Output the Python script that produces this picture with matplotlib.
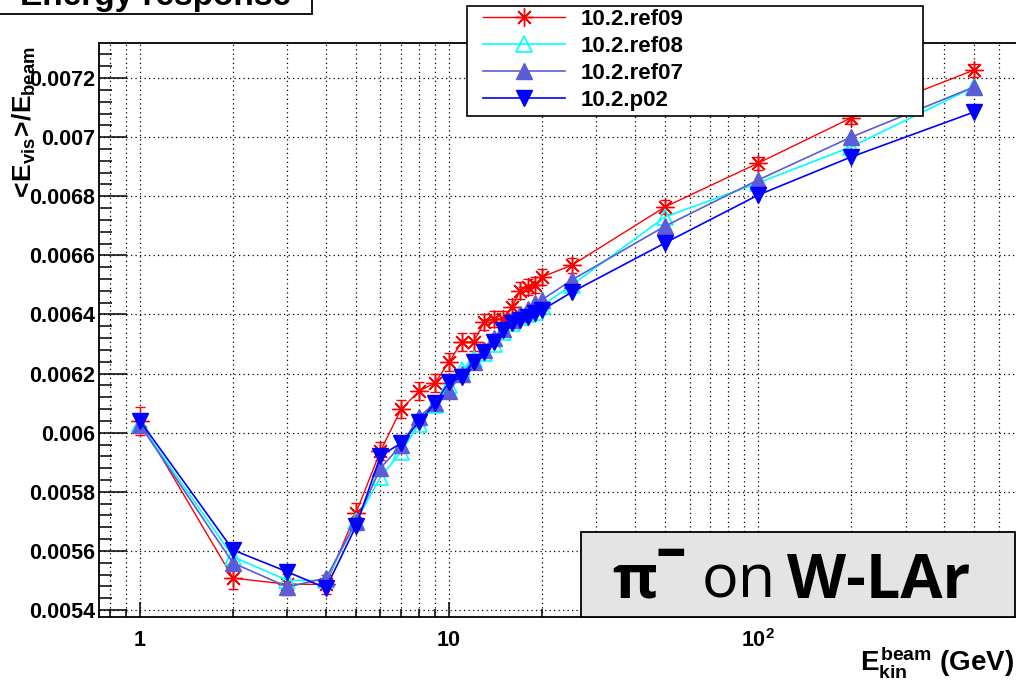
import matplotlib
matplotlib.use('Agg')
import matplotlib.pyplot as plt
from matplotlib.ticker import FixedLocator, FixedFormatter, LogLocator, NullFormatter, MultipleLocator
from matplotlib.patches import Rectangle

plt.rcParams['font.family'] = ['Liberation Sans', 'DejaVu Sans']
plt.rcParams['mathtext.fontset'] = 'custom'
plt.rcParams['mathtext.rm'] = 'Liberation Sans:bold'
plt.rcParams['mathtext.it'] = 'Liberation Sans:bold'
plt.rcParams['mathtext.bf'] = 'Liberation Sans:bold'

# ---------------- data ----------------
energy = [1, 2, 3, 4, 5, 6, 7, 8, 9, 10, 11, 12, 13, 14, 15, 16, 17, 18, 19, 20,
          25, 50, 100, 200, 500]

ref09 = [0.00604, 0.005508, 0.005487, 0.005487, 0.005728, 0.005938, 0.00608, 0.006141,
         0.006168, 0.006239, 0.006307, 0.006307, 0.006374, 0.006385, 0.006385, 0.006425,
         0.006481, 0.006493, 0.006500, 0.006527, 0.006567, 0.006764, 0.006912, 0.007065,
         0.007227]
ref09_err = [0.000047, 0.000037, 0.000035, 0.000033, 0.000033, 0.00003, 0.00003, 0.00003,
             0.00003, 0.00003, 0.00003, 0.00003, 0.000028, 0.000028, 0.000028, 0.000028,
             0.000028, 0.000028, 0.000028, 0.000028, 0.000025, 0.000025, 0.000022, 0.00002,
             0.000022]

ref08 = [0.00603, 0.00558, 0.0055, 0.0055, 0.0057, 0.00585, 0.005935, 0.00603,
         0.006094, 0.006161, 0.006212, 0.00625, 0.00627, 0.0063, 0.00634, 0.00637,
         0.00639, 0.0064, 0.00641, 0.00643, 0.0065, 0.00673, 0.006845, 0.006967, 0.00717]

ref07 = [0.006026, 0.005559, 0.005478, 0.005508, 0.005698, 0.00588, 0.005958, 0.006053,
         0.0061, 0.00614, 0.0062, 0.00624, 0.00628, 0.00632, 0.00635, 0.00638,
         0.0064, 0.00642, 0.00644, 0.00645, 0.006517, 0.006699, 0.006855, 0.007, 0.00717]

p02 = [0.00604, 0.005603, 0.005529, 0.005474, 0.005684, 0.005921, 0.005965, 0.006036,
       0.0061, 0.006171, 0.006188, 0.006239, 0.006273, 0.006307, 0.006347, 0.006371,
       0.006381, 0.006391, 0.006405, 0.006415, 0.006476, 0.006642, 0.006804, 0.006933,
       0.007085]

labels = ['10.2.ref09', '10.2.ref08', '10.2.ref07', '10.2.p02']

yticks = [0.0054, 0.0056, 0.0058, 0.006, 0.0062, 0.0064, 0.0066, 0.0068, 0.007, 0.0072]
ytick_labels = ['0.0054', '0.0056', '0.0058', '0.006', '0.0062', '0.0064', '0.0066',
                '0.0068', '0.007', '0.0072']
xticks = [1, 10, 100]
xtick_labels = ['1', '10', r'$10^{2}$']

# ---------------- figure ----------------
W, H = 1016, 684
fig = plt.figure(figsize=(W / 100, H / 100), dpi=100)

def fx(px):
    return px / W

def fy(py):
    return 1 - py / H

ax = fig.add_axes([fx(99), fy(617), fx(1020) - fx(99), fy(43) - fy(617)])
ax.set_xscale('log')
ax.set_xlim(0.7368, 704)
ax.set_ylim(0.0053763, 0.0073186)

c_red = '#ff0000'
c_cyan = '#00ffff'
c_r07 = '#5c5cd6'
c_p02 = '#0000ff'

ax.errorbar(energy, ref09, yerr=ref09_err, fmt='none', ecolor=c_red, elinewidth=1.0,
            capsize=3.5, capthick=1.0, zorder=3)
l1, = ax.plot(energy, ref09, color=c_red, lw=1.0, marker=(8, 2, 0), ms=13,
              mew=1.0, zorder=3)
l2, = ax.plot(energy, ref08, color=c_cyan, lw=1.2, marker='^', ms=11,
              mfc='none', mec=c_cyan, mew=1.2, zorder=4)
l3, = ax.plot(energy, ref07, color=c_r07, lw=1.2, marker='^', ms=11,
              mfc=c_r07, mec=c_r07, zorder=5)
l4, = ax.plot(energy, p02, color=c_p02, lw=1.2, marker='v', ms=11,
              mfc=c_p02, mec=c_p02, zorder=6)

# ticks
ax.xaxis.set_major_locator(FixedLocator(xticks))
ax.xaxis.set_major_formatter(FixedFormatter(xtick_labels))
ax.xaxis.set_minor_locator(LogLocator(base=10, subs=[2, 3, 4, 5, 6, 7, 8, 9], numticks=20))
ax.xaxis.set_minor_formatter(NullFormatter())
ax.yaxis.set_major_locator(FixedLocator(yticks))
ax.yaxis.set_major_formatter(FixedFormatter(ytick_labels))
ax.yaxis.set_minor_locator(MultipleLocator(0.00004))

ax.tick_params(axis='y', which='major', direction='in', length=20, width=1.1, pad=3,
               labelsize=15.5, right=False)
ax.tick_params(axis='y', which='minor', direction='in', length=9.5, width=1.1, right=False)
ax.tick_params(axis='x', which='major', direction='in', length=11, width=1.1, pad=9,
               labelsize=15.5, top=False)
ax.tick_params(axis='x', which='minor', direction='in', length=5.5, width=1.1, top=False)
for lab in ax.get_xticklabels() + ax.get_yticklabels():
    lab.set_fontweight('bold')

ax.grid(True, axis='x', which='both', color='black', lw=0.9, linestyle=(0, (1, 2.6)))
ax.grid(True, axis='y', which='major', color='black', lw=0.9, linestyle=(0, (1, 2.6)))
ax.set_axisbelow(True)
for s in ax.spines.values():
    s.set_linewidth(1.3)

# axis titles
fig.text(fx(24), fy(124), r'$<\!E_{vis}\!>\!/E_{beam}$', rotation=90, ha='center',
         va='center', fontsize=19)
fig.text(fx(1014), fy(662), r'$E_{kin}^{beam}$ (GeV)', ha='right', va='center',
         fontsize=20, fontweight='bold')

# title box (cut off at top)
fig.patches.append(Rectangle((fx(0) - 0.01, fy(14)), fx(312) + 0.01, 0.1,
                             transform=fig.transFigure, fc='white', ec='black',
                             lw=1.3, zorder=5))
fig.text(fx(20), fy(5), 'Energy response', fontsize=24, fontweight='bold',
         va='baseline', ha='left', zorder=6)

# legend (frame drawn separately)
fig.patches.append(Rectangle((fx(467), fy(116)), fx(923) - fx(467), fy(6) - fy(116),
                             transform=fig.transFigure, fc='white', ec='black',
                             lw=1.2, zorder=4))
leg = fig.legend([l1, l2, l3, l4], labels, loc='upper left',
                 bbox_to_anchor=(fx(483), fy(9)),
                 borderaxespad=0, frameon=False, handlelength=3.7, handletextpad=0.68,
                 labelspacing=0.27, borderpad=0.0,
                 prop={'weight': 'bold', 'size': 16, 'family': 'Liberation Sans'})
leg.set_zorder(6)

# pi- on W-LAr box
fig.patches.append(Rectangle((fx(581), fy(617)), fx(1015) - fx(581), fy(532) - fy(617),
                             transform=fig.transFigure, fc='#e4e4e4', ec='black',
                             lw=1.3, zorder=5))
fs_box = 44
fig.text(fx(612), fy(598), 'π', fontsize=fs_box, fontweight='bold', family='Open Sans',
         va='baseline', ha='left', zorder=6)
fig.text(fx(655), fy(569), '–', fontsize=fs_box, fontweight='bold', family='Open Sans',
         va='baseline', ha='left', zorder=6)
fig.text(fx(702), fy(598), 'on', fontsize=fs_box, family='Open Sans',
         va='baseline', ha='left', zorder=6)
fig.text(fx(787), fy(598), 'W-LAr', fontsize=fs_box, fontweight='bold', family='Open Sans',
         va='baseline', ha='left', zorder=6)

fig.savefig('out.png', dpi=100)
